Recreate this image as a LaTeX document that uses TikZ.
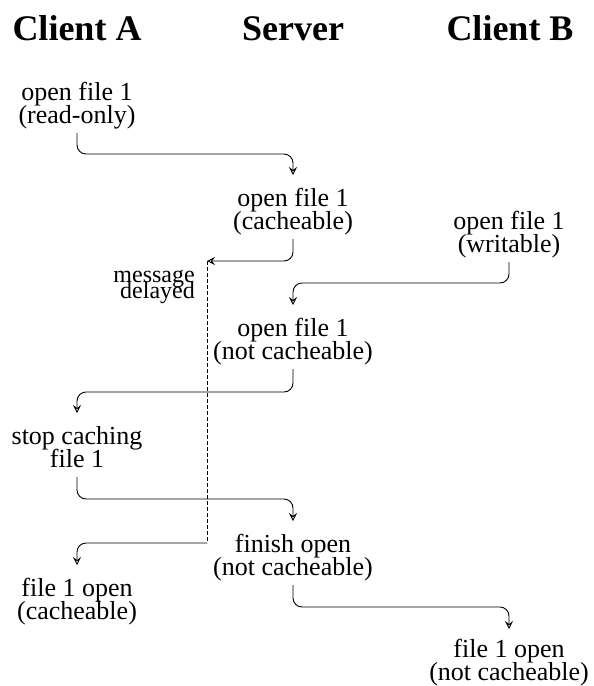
\documentclass[tikz,border=0pt]{standalone}
\usepackage{fontspec}
\setmainfont{Liberation Serif}
\usetikzlibrary{arrows.meta}
\begin{document}
\begin{tikzpicture}[x=1pt,y=-1pt,
  head/.style={font={\fontsize{36}{40}\selectfont\bfseries}, inner sep=0pt, anchor=base},
  lbl/.style={font={\fontsize{26}{22.5}\selectfont\lineskiplimit=-100pt}, align=center, inner sep=0pt, anchor=base},
  msg/.style={font={\fontsize{24}{16}\selectfont\lineskiplimit=-100pt}, align=right, inner sep=0pt, anchor=base east},
  conn/.style={draw, line width=0.9pt, rounded corners=9pt, -{Stealth[open,length=8pt,width=8pt,inset=3pt]}},
  delay/.style={draw, line width=0.9pt, dash pattern=on 4pt off 2pt}]
\useasboundingbox (0,0) rectangle (594,686);
\node[head] (hA) at (77,40) {Client A};
\node[head] (hS) at (293,40) {Server};
\node[head] (hB) at (510,40) {Client B};
\node[lbl] (a1) at (77,123) {open file 1\\(read-only)};
\node[lbl] (s1) at (293,229) {open file 1\\(cacheable)};
\node[lbl] (b1) at (509,252) {open file 1\\(writable)};
\node[lbl] (s2) at (293,359) {open file 1\\(not cacheable)};
\node[lbl] (a2) at (77,467) {stop caching\\file 1};
\node[lbl] (s3) at (293,575) {finish open\\(not cacheable)};
\node[lbl] (a3) at (77,619) {file 1 open\\(cacheable)};
\node[lbl] (b2) at (509,680) {file 1 open\\(not cacheable)};
\node[msg] (md) at (195,298) {message\\delayed};
\coordinate (dtop) at (207,261);
\coordinate (dbot) at (207,543);
\draw[conn] ([yshift=-10pt]a1.base) -- ++(0,21) -| ([yshift=54pt]s1.base);
\draw[conn] ([yshift=-10pt]s1.base) |- (dtop);
\draw[conn] ([yshift=-10pt]b1.base) -- ++(0,21) -| ([yshift=54pt]s2.base);
\draw[conn] ([yshift=-10pt]s2.base) -- ++(0,23) -| ([yshift=54pt]a2.base);
\draw[conn] ([yshift=-10pt]a2.base) -- ++(0,22) -| ([yshift=54pt]s3.base);
\draw[delay] (dtop) -- (dbot);
\draw[conn] (dbot) -| ([yshift=54pt]a3.base);
\draw[conn] ([yshift=-10pt]s3.base) -- ++(0,22) -| ([yshift=51pt]b2.base);
\end{tikzpicture}
\end{document}
